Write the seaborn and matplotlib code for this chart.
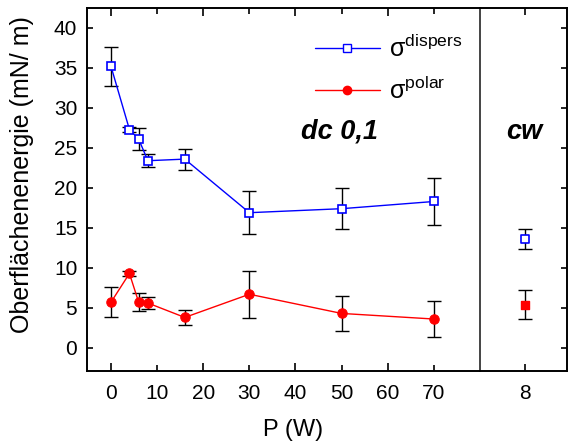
import matplotlib
matplotlib.use("Agg")
import matplotlib.pyplot as plt
import seaborn as sns
import numpy as np
from matplotlib.lines import Line2D
from matplotlib.ticker import MultipleLocator, FixedLocator, FixedFormatter

# ---- data ----
power = [0, 4, 6, 8, 16, 30, 50, 70]
dispers = [35.2, 27.3, 26.1, 23.4, 23.6, 16.9, 17.4, 18.3]
dispers_err = [2.4, 0.3, 1.4, 0.8, 1.3, 2.7, 2.6, 2.9]
polar = [5.7, 9.3, 5.7, 5.6, 3.8, 6.7, 4.3, 3.6]
polar_err = [1.9, 0.3, 1.1, 0.8, 0.95, 2.95, 2.2, 2.2]
cw_power = [8]
cw_dispers = [13.6]
cw_dispers_err = [1.3]
cw_polar = [5.4]
cw_polar_err = [1.8]
x_ticks_right = [8]

sns.set_style("white")
plt.rcParams['font.family'] = ['Liberation Sans', 'DejaVu Sans']
plt.rcParams['mathtext.fontset'] = 'custom'
plt.rcParams['mathtext.rm'] = 'Liberation Sans'
plt.rcParams['mathtext.it'] = 'Liberation Sans:italic'
for k in ['text.color', 'axes.labelcolor', 'xtick.color', 'ytick.color',
          'xtick.labelcolor', 'ytick.labelcolor']:
    plt.rcParams[k] = 'black'

fig = plt.figure(figsize=(5.68, 4.44), dpi=100)
L, R, B, T = 87/568, 480/568, 1-371/444, 1-8/444
RR = 567/568
ax = fig.add_axes([L, B, R-L, T-B])
ax2 = fig.add_axes([R, B, RR-R, T-B], sharey=ax)
ax2.patch.set_alpha(0)

ylim = (-2.9, 42.5)
cap = 5

# left panel
ax.errorbar(power, dispers, yerr=dispers_err, fmt='none', ecolor='black',
            elinewidth=1, capsize=cap, capthick=1, zorder=2)
ax.errorbar(power, polar, yerr=polar_err, fmt='none', ecolor='black',
            elinewidth=1, capsize=cap, capthick=1, zorder=2)
sns.lineplot(x=power, y=dispers, ax=ax, color='blue', marker='s', markersize=5.5,
             markerfacecolor='white', markeredgecolor='blue', markeredgewidth=1.2,
             linewidth=1, sort=False, estimator=None, zorder=3)
sns.lineplot(x=power, y=polar, ax=ax, color='red', marker='o', markersize=6.8,
             markerfacecolor='red', markeredgecolor='red',
             linewidth=1, sort=False, estimator=None, zorder=3)

# right panel
ax2.errorbar(cw_power, cw_dispers, yerr=cw_dispers_err, fmt='none', ecolor='black',
             elinewidth=1, capsize=cap, capthick=1, zorder=2)
ax2.errorbar(cw_power, cw_polar, yerr=cw_polar_err, fmt='none', ecolor='black',
             elinewidth=1, capsize=cap, capthick=1, zorder=2)
sns.scatterplot(x=cw_power, y=cw_dispers, ax=ax2, marker='s', s=32,
                facecolor='white', edgecolor='blue', linewidth=1.2, zorder=3)
sns.scatterplot(x=cw_power, y=cw_polar, ax=ax2, marker='s', s=34,
                color='red', edgecolor='red', linewidth=1, zorder=3)

ax.set_xlim(-5.2, 80)
ax2.set_xlim(6.95, 9.0)
ax.set_ylim(*ylim)

for a in (ax, ax2):
    for s in a.spines.values():
        s.set_visible(True)
        s.set_color('black')
        s.set_linewidth(1.4)

ax.spines['right'].set_linewidth(1.4)
ax.spines['right'].set_color('#444444')
ax2.spines['left'].set_visible(False)

# ticks
ax.yaxis.set_major_locator(MultipleLocator(5))
ax.yaxis.set_minor_locator(MultipleLocator(2.5))
ax.xaxis.set_major_locator(FixedLocator([0, 20, 40, 60]))
ax.xaxis.set_minor_locator(FixedLocator([10, 30, 50, 70]))
ax.xaxis.set_minor_formatter(FixedFormatter(['10', '30', '50', '70']))
ax.tick_params(axis='both', which='both', direction='in', labelsize=15,
               top=True, bottom=True, left=True, right=False, width=1.2,
               color='black', labelcolor='black')
ax.tick_params(axis='y', which='both', length=4, pad=7)
ax.tick_params(axis='x', which='major', length=6, pad=9)
ax.tick_params(axis='x', which='minor', length=4, pad=9)

ax2.set_xticks(x_ticks_right)
ax2.set_xticklabels(['8'])
ax2.tick_params(axis='x', which='both', direction='in', labelsize=15,
                top=True, bottom=True, length=5, width=1.2, pad=9,
                color='black', labelcolor='black')
ax2.tick_params(axis='y', which='both', direction='in', left=False, right=True,
                labelleft=False, labelright=False, length=4, width=1.2, color='black')
ax2.yaxis.set_minor_locator(FixedLocator([]))
ax2.xaxis.set_minor_locator(FixedLocator([]))

ax.set_ylabel('Oberflächenenergie (mN/ m)', fontsize=18, color='black')
ax.yaxis.set_label_coords(-0.135, 0.54)
ax.set_xlabel('')
ax2.set_xlabel('')
ax2.set_ylabel('')
fig.text(293/568, 1-430/444, 'P (W)', fontsize=17, ha='center', va='center', color='black')

ax.text(49.6, 27, 'dc 0,1', fontsize=19.5, fontweight='bold', fontstyle='italic',
        ha='center', va='center', color='black')
ax2.text(8, 27, 'cw', fontsize=19.5, fontweight='bold', fontstyle='italic',
         ha='center', va='center', color='black')

handles = [
    Line2D([], [], color='blue', marker='s', markersize=5.5, markerfacecolor='white',
           markeredgecolor='blue', linewidth=1),
    Line2D([], [], color='red', marker='o', markersize=6, markerfacecolor='red',
           markeredgecolor='red', linewidth=1),
]
leg = ax.legend(handles, [r'σ$^{\mathrm{dispers}}$', r'σ$^{\mathrm{polar}}$'],
                loc='upper left', bbox_to_anchor=(0.535, 0.975), frameon=False,
                fontsize=18, handlelength=2.6, handletextpad=0.35, labelspacing=0.6,
                borderaxespad=0.3, labelcolor='black')

fig.savefig('out.png', dpi=100)
